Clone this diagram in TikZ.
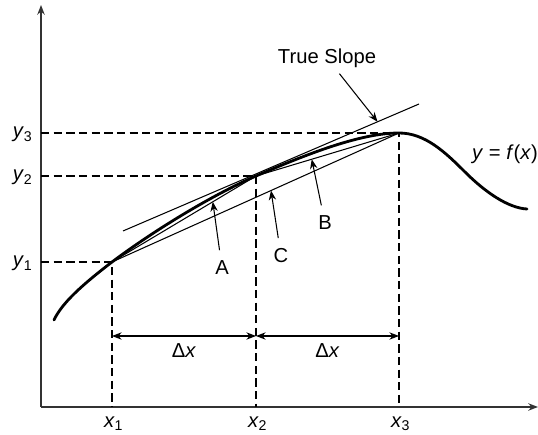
\documentclass[tikz,border=0pt]{standalone}
\usepackage{fontspec}
\setmainfont{Liberation Sans}
\usetikzlibrary{arrows.meta,calc}

\begin{document}
\begin{tikzpicture}[x=0.02cm,y=-0.02cm,>={Stealth[length=5.5pt,width=4.2pt]},
  every node/.style={font=\fontsize{11.5}{13}\selectfont,inner sep=1pt}]
\tikzstyle{axis}=[line width=1.1pt,black!80,->]
\tikzstyle{guide}=[line width=0.6pt,dash pattern=on 4.7pt off 2.5pt]
\tikzstyle{chord}=[line width=0.6pt]
\tikzstyle{fcurve}=[line width=1.6pt,line cap=round]
\tikzstyle{callout}=[line width=0.6pt,->,shorten <=5pt]
\useasboundingbox (0,0) rectangle (538,435);
\coordinate (O) at (41,407);
\coordinate (ytop) at (41,5);
\coordinate (xend) at (538,407);
\coordinate (P1) at (112,262);
\coordinate (P2) at (256,176);
\coordinate (P3) at (399,133);
\coordinate (T1) at (123,231);
\coordinate (T2) at (419,104);
% axes
\draw[axis] (O) -- (ytop);
\draw[axis] (O) -- (xend);
% guide lines
\draw[guide] (O |- P1) -- (P1) -- (P1 |- O);
\draw[guide] (O |- P2) -- (P2) -- (P2 |- O);
\draw[guide] (O |- P3) -- (P3) -- (P3 |- O);
% tick labels
\node[anchor=east] (ly1) at ([xshift=-3.5pt,yshift=-1pt]O |- P1) {\textit{y}\textsubscript{1}};
\node[anchor=east] (ly2) at ([xshift=-3.5pt,yshift=-1pt]O |- P2) {\textit{y}\textsubscript{2}};
\node[anchor=east] (ly3) at ([xshift=-3.5pt,yshift=-1pt]O |- P3) {\textit{y}\textsubscript{3}};
\node[anchor=north] (lx1) at ([xshift=1pt,yshift=-4.5pt]P1 |- O) {\textit{x}\textsubscript{1}};
\node[anchor=north] (lx2) at ([xshift=1pt,yshift=-4.5pt]P2 |- O) {\textit{x}\textsubscript{2}};
\node[anchor=north] (lx3) at ([xshift=1pt,yshift=-4.5pt]P3 |- O) {\textit{x}\textsubscript{3}};
% chords and tangent
\draw[chord] (P1) -- (P2);
\draw[chord] (P2) -- (P3);
\draw[chord] (P1) -- (P3);
\draw[chord] (T1) -- (T2);
% the function
\draw[fcurve] (54,320) .. controls (62,303) and (82,285) .. (P1)
  .. controls (152,232) and (210,196) .. (P2)
  .. controls (306,154.5) and (360,133) .. (P3)
  .. controls (425,133) and (445,152) .. (465,172)
  .. controls (485,192) and (508,208) .. (527,209);
\node (fx) at (505,154) {\textit{y} = \textit{f}(\textit{x})};
% step widths
\coordinate (d1) at (112,336);
\coordinate (d2) at (256,336);
\coordinate (d3) at (399,336);
\draw[chord,<->] (d1) -- node[below=3pt] (dx1) {Δ\textit{x}} (d2);
\draw[chord,<->] (d2) -- node[below=3pt] (dx2) {Δ\textit{x}} (d3);
% callouts
\node (lblA) at (222,268) {A};
\node (lblB) at (325,223) {B};
\node (lblC) at (281,256) {C};
\node (slope) at (327,58) {True Slope};
\draw[callout] (lblA) -- ($(P1)!0.70!(P2)$);
\draw[callout] (lblB) -- ($(P2)!0.39!(P3)$);
\draw[callout] (lblC) -- ($(P1)!0.554!(P3)$);
\draw[callout,shorten <=3pt] (slope) -- ($(T1)!0.86!(T2)$);
\end{tikzpicture}
\end{document}
